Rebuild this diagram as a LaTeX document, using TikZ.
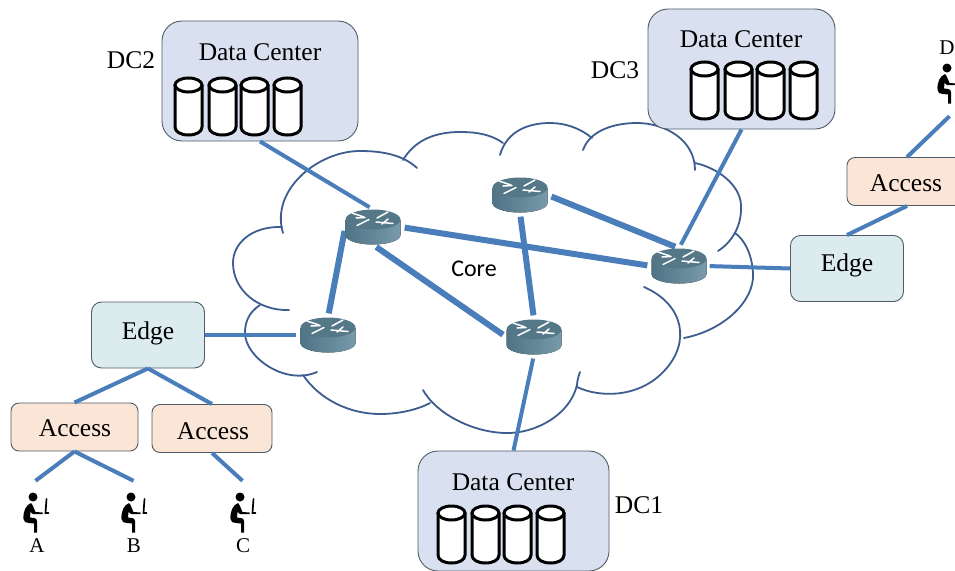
\documentclass[tikz,border=0pt]{standalone}
\usepackage{fontspec}
\setmainfont{Liberation Serif}
\newfontfamily\corefont{Carlito}
\definecolor{cloudc}{HTML}{3D5C8F}
\definecolor{linkc}{HTML}{4A7EBB}
\definecolor{dcfill}{HTML}{D9E1F1}
\definecolor{edgefill}{HTML}{DCEBEE}
\definecolor{accfill}{HTML}{FBE5D6}
\definecolor{boxline}{HTML}{4F5B66}
\definecolor{routerA}{HTML}{4F7486}
\definecolor{routerB}{HTML}{789AAA}
\definecolor{routerC}{HTML}{557888}
\tikzset{
  cloudarc/.style={draw=cloudc,line width=1.8pt,line cap=round},
  thinlink/.style={draw=linkc,line width=4pt},
  thicklink/.style={draw=linkc,line width=6pt,shorten <=4pt,shorten >=4pt},
  dcbox/.style={draw=boxline,line width=0.9pt,fill=dcfill,rounded corners=20pt,minimum width=#1,minimum height=120pt,inner sep=0pt},
  edgebox/.style={draw=boxline,line width=0.9pt,fill=edgefill,rounded corners=10pt,minimum width=113pt,minimum height=66pt,inner sep=0pt},
  accbox/.style={draw=boxline,line width=0.9pt,fill=accfill,rounded corners=8pt,minimum width=#1,minimum height=48pt,inner sep=0pt},
  routerbox/.style={minimum width=55pt,minimum height=35pt,inner sep=0pt},
  personbox/.style={minimum width=30pt,minimum height=64pt,inner sep=0pt},
  lab/.style={inner sep=0pt,font=\fontsize{25.5}{25.5}\selectfont},
  small/.style={inner sep=0pt,font=\fontsize{21}{21}\selectfont},
}
\newcommand{\cylone}[2]{%
  \draw[black,line width=3pt,fill=white] (#1,#2+7) -- (#1,#2+49) .. controls (#1,#2+54) and (#1+6,#2+57) .. (#1+13.5,#2+57) .. controls (#1+21,#2+57) and (#1+27,#2+54) .. (#1+27,#2+49) -- (#1+27,#2+7);
  \draw[black,line width=3pt,fill=white] (#1+13.5,#2+7) ellipse [x radius=13.5pt,y radius=7pt];
}
\newcommand{\cylrow}[2]{%
  \cylone{#1}{#2}\cylone{#1+34}{#2}\cylone{#1+66}{#2}\cylone{#1+99}{#2}%
}
\newcommand{\routerdraw}[1]{%
  \begin{scope}[shift={(#1.center)}]
    \fill[left color=routerA,right color=routerB] (-27.5,-7) -- (-27.5,8) .. controls (-27.5,13.5) and (-15,17.5) .. (0,17.5) .. controls (15,17.5) and (27.5,13.5) .. (27.5,8) -- (27.5,-7) -- cycle;
    \fill[routerC] (0,-7.5) ellipse [x radius=27.5pt,y radius=10pt];
    \draw[white,line width=1.5pt,line cap=round,line join=round]
      (-21,-14) -- (-9,-10) (-16,-1.5) -- (-4,-7.5)
      (15,-15) -- (4,-9) (3,-5) -- (20,-3.5)
      (-17,-9) -- (-8,-9.5) (9,-3) -- (15,-8);
  \end{scope}%
}
\newcommand{\persondraw}[1]{%
  \begin{scope}[shift={(#1.center)},xshift=-2.5pt,yshift=16pt]
    \fill[black] (0,0) circle [radius=4.5pt];
    \fill[black] (-2,6) .. controls (-7,8) and (-10,14) .. (-9.5,22) .. controls (-9.5,25) and (-7,26) .. (-4,26) -- (1,26.5) -- (1,35.5) -- (4,35.5) -- (4,24) .. controls (4,22) and (3,21.5) .. (1,21) -- (-3,20.5) -- (-2.5,15) -- (0,17) -- (9.5,17) -- (9.5,15.5) -- (2.5,15) -- (-0.5,8) -- cycle;
    \draw[black,line width=1.7pt,line cap=round] (13.5,2) -- (12.5,16) -- (15.5,16);
  \end{scope}%
}
\begin{document}
\begin{tikzpicture}[x=1pt,y=-1pt]
\useasboundingbox (0,0) rectangle (955,570);
\clip (0,0) rectangle (955,570);
\fill[white] (0,0) rectangle (955,570);
% cloud
\draw[cloudarc] (417,168) .. controls (402,154) and (380,151) .. (360,151) .. controls (318,151) and (270,190) .. (283,233);
\draw[cloudarc] (282,227) .. controls (252,226) and (233,243) .. (233,263) .. controls (233,290) and (258,311) .. (289,310);
\draw[cloudarc] (260,305) .. controls (248,313) and (245,323) .. (245,333) .. controls (245,357) and (285,386) .. (317,372);
\draw[cloudarc] (303,375) .. controls (320,400) and (350,414) .. (380,414) .. controls (398,414) and (417,410) .. (430,403);
\draw[cloudarc] (423,390) .. controls (435,412) and (470,432) .. (505,433) .. controls (535,434) and (570,415) .. (577,385);
\draw[cloudarc] (580,372) .. controls (577,380) and (577,384) .. (577,387) .. controls (600,398) and (640,398) .. (665,370) .. controls (690,343) and (685,305) .. (644,287);
\draw[cloudarc] (684,338) .. controls (725,330) and (755,300) .. (753,273) .. controls (752,255) and (745,240) .. (735,233);
\draw[cloudarc] (718,251) .. controls (735,240) and (742,222) .. (741,205) .. controls (740,185) and (718,168) .. (695,163);
\draw[cloudarc] (695,170) .. controls (695,140) and (665,123) .. (637,123) .. controls (615,123) and (590,130) .. (583,150);
\draw[cloudarc] (592,138) .. controls (580,128) and (565,123) .. (550,123) .. controls (530,123) and (507,130) .. (500,155);
\draw[cloudarc] (403,160) .. controls (415,140) and (435,132) .. (460,132) .. controls (478,132) and (492,135) .. (503,143);
% nodes
\node[routerbox] (r1) at (373,227) {};
\node[routerbox] (r2) at (328,335) {};
\node[routerbox] (r3) at (534,337) {};
\node[routerbox] (r4) at (520,195) {};
\node[routerbox] (r5) at (679,266) {};
\node[dcbox=196pt] (dc2) at (260,81) {};
\node[dcbox=187pt] (dc3) at (741.5,69) {};
\node[dcbox=191pt] (dc1) at (513.5,511) {};
\node[edgebox] (e1) at (148,335) {};
\node[edgebox] (e2) at (847,268.5) {};
\node[accbox=127pt] (a1) at (74.5,427) {};
\node[accbox=120pt] (a2) at (212,428.5) {};
\node[accbox=120pt] (a3) at (907,181.5) {};
\node[personbox] (pa) at (35.5,513) {};
\node[personbox] (pb) at (133.5,513) {};
\node[personbox] (pc) at (242.5,513) {};
\node[personbox] (pd) at (949.5,84) {};
% connectors
\draw[thinlink,shorten >=4pt] (dc2.south) -- (r1.north);
\draw[thinlink,shorten >=4pt] (dc3.south) -- (r5.north);
\draw[thinlink,shorten <=4pt] (r3.south) -- (dc1.north);
\draw[thinlink,shorten <=3pt] (r5.east) -- (e2.west);
\draw[thinlink,shorten >=4pt] (e1.east) -- (r2.west);
\draw[thicklink] (r1.west) -- (r2.north);
\draw[thicklink] (r1.east) -- (r5.west);
\draw[thicklink] (r1.south) -- (r3.west);
\draw[thicklink] (r4.east) -- (r5.north);
\draw[thicklink] (r4.south) -- (r3.north);
\draw[thinlink] (e1.south) -- (a1.north);
\draw[thinlink] (e1.south) -- (a2.north);
\draw[thinlink] (a1.south) -- (pa.north);
\draw[thinlink] (a1.south) -- (pb.north);
\draw[thinlink] (a2.south) -- (pc.north);
\draw[thinlink] (a3.south) -- (e2.north);
\draw[thinlink] (a3.north) -- (pd.south);
\routerdraw{r1}\routerdraw{r2}\routerdraw{r3}\routerdraw{r4}\routerdraw{r5}
\persondraw{pa}\persondraw{pb}\persondraw{pc}\persondraw{pd}
\cylrow{175}{78}
\cylrow{691}{62}
\cylrow{438}{506}
% labels
\node[lab] (t2) at (260,52) {Data Center};
\node[lab] (t3) at (741,39) {Data Center};
\node[lab] (t1) at (513,482) {Data Center};
\node[lab] (l2) at (131,60) {DC2};
\node[lab] (l3) at (615,70) {DC3};
\node[lab] (l1) at (639,505) {DC1};
\node[lab] (te1) at (148,333) {Edge};
\node[lab] (te2) at (847,265) {Edge};
\node[lab] (ta1) at (75,428) {Access};
\node[lab] (ta2) at (213,431) {Access};
\node[lab] (ta3) at (906,183) {Access};
\node[inner sep=0pt,font=\corefont\fontsize{24}{24}\selectfont] (core) at (474,269) {Core};
\node[small] (na) at (37,546) {A};
\node[small] (nb) at (134,546) {B};
\node[small] (nc) at (243,546) {C};
\node[small] (nd) at (947,48) {D};
\end{tikzpicture}
\end{document}
